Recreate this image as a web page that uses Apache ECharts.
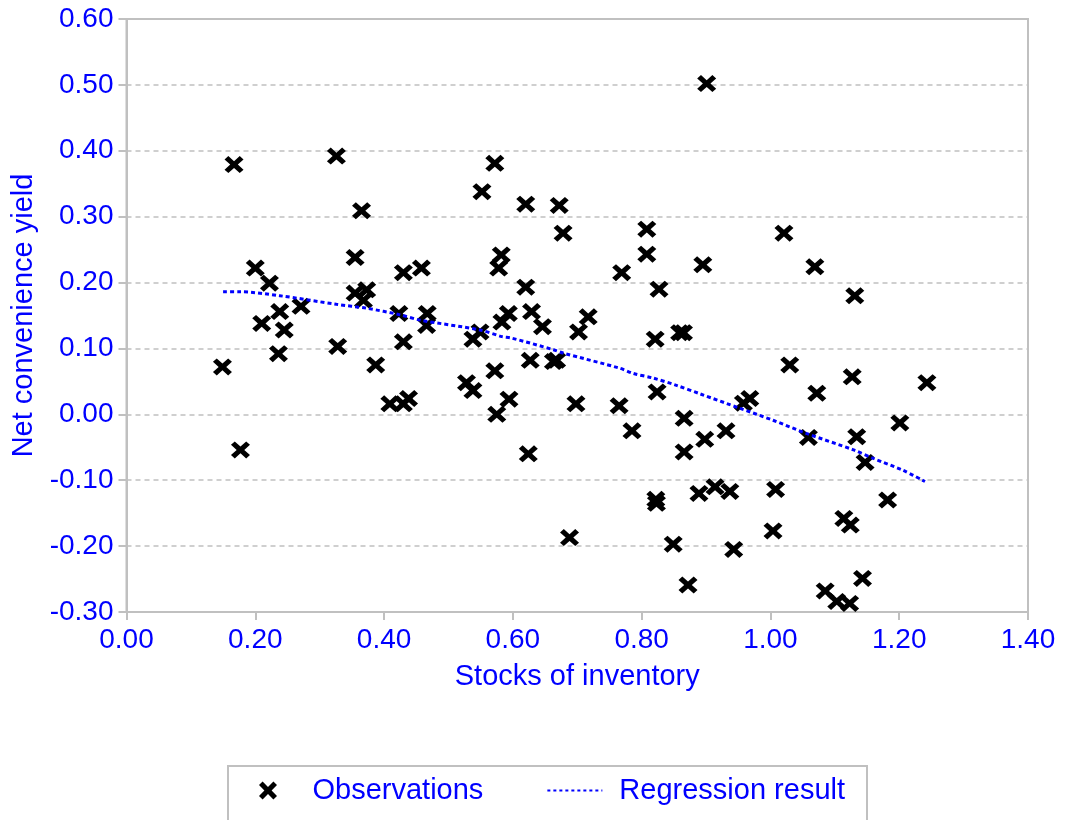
<!DOCTYPE html>
<html>
<head>
<meta charset="utf-8">
<script src="https://cdn.jsdelivr.net/npm/echarts@6/dist/echarts.min.js"></script>
<style>
  html, body { margin: 0; padding: 0; background: #fff; }
  #main { width: 1065px; height: 820px; }
</style>
</head>
<body>
<div id="main"></div>
<script>
// observations (stocks of inventory, net convenience yield)
var obsX = [0.149, 0.167, 0.177, 0.200, 0.210, 0.222, 0.236, 0.238, 0.245, 0.271,
  0.326, 0.328, 0.355, 0.355, 0.365, 0.368, 0.373, 0.387, 0.409, 0.423,
  0.430, 0.430, 0.430, 0.438, 0.458, 0.466, 0.467, 0.528, 0.538, 0.538,
  0.549, 0.552, 0.572, 0.572, 0.575, 0.578, 0.582, 0.583, 0.593, 0.594,
  0.620, 0.620, 0.624, 0.627, 0.629, 0.646, 0.663, 0.668, 0.672, 0.678,
  0.688, 0.698, 0.702, 0.717, 0.765, 0.769, 0.785, 0.808, 0.808, 0.821,
  0.822, 0.823, 0.824, 0.827, 0.849, 0.859, 0.865, 0.866, 0.866, 0.872,
  0.889, 0.895, 0.898, 0.901, 0.914, 0.931, 0.937, 0.943, 0.958, 0.968,
  1.004, 1.008, 1.021, 1.030, 1.059, 1.069, 1.072, 1.085, 1.103, 1.114,
  1.123, 1.124, 1.127, 1.131, 1.134, 1.143, 1.147, 1.182, 1.201, 1.243];
var obsY = [0.072, 0.379, -0.054, 0.222, 0.138, 0.199, 0.092, 0.156, 0.128, 0.164,
  0.392, 0.103, 0.238, 0.184, 0.309, 0.173, 0.189, 0.075, 0.016, 0.153,
  0.016, 0.110, 0.215, 0.024, 0.222, 0.135, 0.153, 0.048, 0.114, 0.036,
  0.125, 0.338, 0.381, 0.066, 0.000, 0.222, 0.242, 0.140, 0.153, 0.023,
  0.319, 0.193, -0.060, 0.082, 0.156, 0.133, 0.080, 0.082, 0.317, 0.275,
  -0.187, 0.016, 0.125, 0.148, 0.013, 0.215, -0.025, 0.281, 0.243, 0.114,
  -0.129, -0.135, 0.034, 0.190, -0.197, 0.124, 0.124, -0.006, -0.057, -0.259,
  -0.120, 0.227, -0.038, 0.502, -0.110, -0.025, -0.117, -0.205, 0.017, 0.024,
  -0.177, -0.114, 0.275, 0.075, -0.035, 0.224, 0.032, -0.268, -0.284, -0.158,
  -0.287, -0.168, 0.057, 0.180, -0.034, -0.249, -0.073, -0.130, -0.013, 0.048];

// fitted curve
var regX = [0.150, 0.176, 0.238, 0.326, 0.373, 0.425, 0.456, 0.549, 0.583, 0.597,
  0.663, 0.678, 0.766, 0.787, 0.818, 0.854, 0.891, 0.953, 1.004, 1.056,
  1.129, 1.160, 1.206, 1.240];
var regY = [0.186, 0.186, 0.180, 0.167, 0.161, 0.151, 0.143, 0.128, 0.118, 0.116,
  0.098, 0.093, 0.070, 0.062, 0.055, 0.044, 0.031, 0.009, -0.009, -0.029,
  -0.054, -0.067, -0.085, -0.102];

var BLUE = '#0000ff';
var GRAY = '#c0c0c0';
var FONT = '"Liberation Sans", Arial, sans-serif';
var crossPath = 'path://M0,2 L2,0 L5,3 L8,0 L10,2 L7,5 L10,8 L8,10 L5,7 L2,10 L0,8 L3,5 Z';

var obsData = obsX.map(function (x, i) { return [x, obsY[i]]; });
var regData = regX.map(function (x, i) { return [x, regY[i]]; });

var myChart = echarts.init(document.getElementById('main'));

myChart.setOption({
  animation: false,
  textStyle: { fontFamily: FONT },
  grid: {
    left: 126.5, right: 37, top: 19, bottom: 208,
    show: true, borderColor: GRAY, borderWidth: 2
  },
  xAxis: {
    type: 'value', min: 0, max: 1.4, interval: 0.2,
    name: 'Stocks of inventory', nameLocation: 'middle', nameGap: 50,
    nameTextStyle: { color: BLUE, fontSize: 29, fontFamily: FONT },
    axisLine: { show: true, onZero: false, lineStyle: { color: GRAY, width: 2 } },
    axisTick: { show: true, length: 8, lineStyle: { color: GRAY, width: 2 } },
    axisLabel: { color: BLUE, fontSize: 28, margin: 14, fontFamily: FONT,
      formatter: function (v) { return v.toFixed(2); } },
    splitLine: { show: false }
  },
  yAxis: {
    type: 'value', min: -0.3, max: 0.6, interval: 0.1,
    name: 'Net convenience yield', nameLocation: 'middle', nameGap: 86,
    nameTextStyle: { color: BLUE, fontSize: 29, fontFamily: FONT },
    axisLine: { show: true, onZero: false, lineStyle: { color: GRAY, width: 2 } },
    axisTick: { show: true, length: 8, lineStyle: { color: GRAY, width: 2 } },
    axisLabel: { color: BLUE, fontSize: 28, margin: 13, fontFamily: FONT,
      padding: [6, 0, 0, 0],
      formatter: function (v) { return v.toFixed(2); } },
    splitLine: { show: true, lineStyle: { color: GRAY, type: [5, 4], width: 1.5 } }
  },
  legend: {
    left: 228, top: 766,
    padding: [10, 22, 40, 31],
    itemGap: 63, itemWidth: 55, itemHeight: 18,
    borderColor: GRAY, borderWidth: 2,
    textStyle: { color: BLUE, fontSize: 29, fontFamily: FONT, padding: [0, 0, 0, 12] },
    data: [
      { name: 'Observations', itemStyle: { opacity: 1 } },
      { name: 'Regression result', itemStyle: { opacity: 0 },
        lineStyle: { color: BLUE, width: 2, type: [3, 3] } }
    ]
  },
  series: [
    {
      name: 'Observations',
      type: 'scatter',
      symbol: crossPath,
      symbolSize: [19, 17],
      itemStyle: { color: '#000', opacity: 1 },
      data: obsData
    },
    {
      name: 'Regression result',
      type: 'line',
      showSymbol: false,
      symbol: 'none',
      smooth: 0.3,
      lineStyle: { color: BLUE, width: 3, type: [4, 3] },
      itemStyle: { color: BLUE },
      data: regData
    }
  ]
});
</script>
</body>
</html>
